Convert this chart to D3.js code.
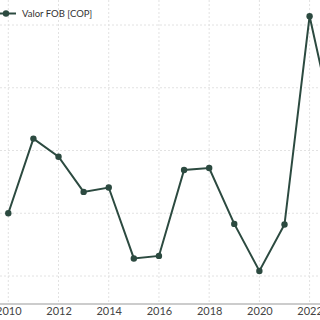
<!DOCTYPE html>
<html><head><meta charset="utf-8">
<script src="https://cdn.jsdelivr.net/npm/d3@7"></script>
<style>html,body{margin:0;padding:0;background:#fff;}svg{display:block;}</style>
</head><body><div id="chart"></div>
<script>
const years = [2010,2011,2012,2013,2014,2015,2016,2017,2018,2019,2020,2021,2022,2023];
const values = [2.0,3.19,2.90,2.34,2.41,1.28,1.32,2.69,2.72,1.83,1.08,1.82,5.14,3.33];
const xTicks = [2010,2012,2014,2016,2018,2020,2022];
const yGrid = [1,2,3,4,5];
const seriesName = "Valor FOB [COP]";
const color = "#2c4a40";

const W = 320, H = 320;
const svg = d3.select("#chart").append("svg").attr("width", W).attr("height", H);
const x = d3.scaleLinear().domain([2010, 2022]).range([8.3, 309.6]);
const y = d3.scaleLinear().domain([1, 5]).range([276, 25]);

// grid
svg.append("g").selectAll("line").data(yGrid).join("line")
  .attr("x1", 0).attr("x2", W).attr("y1", d => y(d)).attr("y2", d => y(d))
  .attr("stroke", "#e2e2e2").attr("stroke-width", 1).attr("stroke-dasharray", "2,2");
svg.append("g").selectAll("line").data(xTicks).join("line")
  .attr("x1", d => x(d)).attr("x2", d => x(d)).attr("y1", 0).attr("y2", 304)
  .attr("stroke", "#e2e2e2").attr("stroke-width", 1).attr("stroke-dasharray", "2,2");

// x axis
const ax = svg.append("g").attr("transform", "translate(0,304)")
  .call(d3.axisBottom(x).tickValues(xTicks).tickFormat(d3.format("d")).tickSize(0).tickPadding(3));
ax.select(".domain").remove();
ax.append("line").attr("x1", 0).attr("x2", W).attr("stroke", "#999").attr("stroke-width", 1);
ax.selectAll("text").attr("font-family", "Lato, sans-serif").attr("font-size", 11).attr("fill", "#444");

// line
const data = years.map((yr, i) => ({yr, v: values[i]}));
svg.append("path").datum(data)
  .attr("fill", "none").attr("stroke", color).attr("stroke-width", 2)
  .attr("d", d3.line().x(d => x(d.yr)).y(d => y(d.v)));
svg.append("g").selectAll("circle").data(data).join("circle")
  .attr("cx", d => x(d.yr)).attr("cy", d => y(d.v)).attr("r", 3.2).attr("fill", color);

// legend
const lg = svg.append("g");
lg.append("line").attr("x1", -2).attr("x2", 16).attr("y1", 13.5).attr("y2", 13.5)
  .attr("stroke", color).attr("stroke-width", 2);
lg.append("circle").attr("cx", 6).attr("cy", 13.5).attr("r", 3.2).attr("fill", color);
lg.append("text").attr("x", 22).attr("y", 13.5).attr("dy", "0.35em")
  .attr("font-family", "Lato, sans-serif").attr("font-size", 9.5).attr("fill", "#333")
  .text(seriesName);
</script></body></html>
